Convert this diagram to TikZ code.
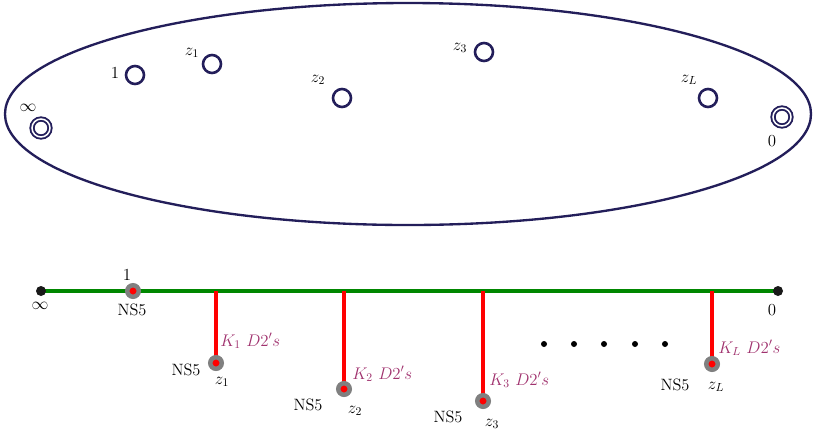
\documentclass[tikz,border=0pt]{standalone}
\usepackage{tikz}
\definecolor{navy}{RGB}{35,30,90}
\definecolor{lab}{RGB}{160,50,110}
\definecolor{grn}{RGB}{0,135,0}
\definecolor{rd}{RGB}{255,0,0}
\definecolor{gry}{RGB}{128,128,128}
\begin{document}
\begin{tikzpicture}[x=0.03cm,y=-0.03cm,
  puncture/.style={circle,draw=navy,line width=2.2pt,minimum size=18*0.03cm,inner sep=0pt},
  dpuncture/.style={circle,draw=navy,line width=1.6pt,minimum size=18*0.03cm,inner sep=0pt,double=white,double distance=1.3pt},
  lbl/.style={inner sep=1pt,font=\fontsize{14}{16}\selectfont},
  klbl/.style={inner sep=1pt,anchor=west,text=lab,font=\fontsize{14}{16}\selectfont},
  ns/.style={circle,fill=rd,draw=gry,line width=4.5*0.03cm,minimum size=11.5*0.03cm,inner sep=0pt},
  endpt/.style={circle,fill=black!90,minimum size=10*0.03cm,inner sep=0pt},
  greenline/.style={draw=grn,line width=4pt},
  redline/.style={draw=rd,line width=4pt},
  dotty/.style={circle,fill=black,minimum size=6*0.03cm,inner sep=0pt}]
\useasboundingbox (0,0) rectangle (817,436);
% ellipse
\draw[navy,line width=2pt] (408,114) ellipse [x radius=403, y radius=111];
\node[puncture] (p1) at (135,75) {};
\node[lbl] (lp1) at (115,73) {$1$};
\node[puncture] (pz1) at (212,64) {};
\node[lbl] (lpz1) at (192,53) {$z_1$};
\node[puncture] (pz2) at (342,98) {};
\node[lbl] (lpz2) at (318,80) {$z_2$};
\node[puncture] (pz3) at (484,52) {};
\node[lbl] (lpz3) at (460,48) {$z_3$};
\node[puncture] (pzL) at (708,98) {};
\node[lbl] (lpzL) at (689,80) {$z_L$};
\node[dpuncture] (pinf) at (41,128) {};
\node[lbl] (lpinf) at (28,108) {$\infty$};
\node[dpuncture] (p0) at (782,117) {};
\node[lbl] (lp0) at (772,141) {$0$};
% bottom
\coordinate (inf) at (41,291);
\coordinate (zero) at (778,291);
\coordinate (c1) at (133,291);
\coordinate (b1) at (216,291);
\coordinate (b2) at (344,291);
\coordinate (b3) at (483,291);
\coordinate (bL) at (712,291);
\coordinate (e1) at (216,363);
\coordinate (e2) at (344,389);
\coordinate (e3) at (483,401);
\coordinate (eL) at (712,364);
\draw[greenline] (inf) -- (zero);
\draw[redline] (b1) -- (e1);
\draw[redline] (b2) -- (e2);
\draw[redline] (b3) -- (e3);
\draw[redline] (bL) -- (eL);
\node[ns] (n1) at (c1) {};
\node[ns] (m1) at (e1) {};
\node[ns] (m2) at (e2) {};
\node[ns] (m3) at (e3) {};
\node[ns] (mL) at (eL) {};
\node[endpt] (ninf) at (inf) {};
\node[endpt] (nzero) at (zero) {};
\node[lbl] (linf) at (40,306) {$\infty$};
\node[lbl] (lzero) at (772,310) {$0$};
\node[lbl] (ln1) at (127,275) {$1$};
\node[lbl] (nsl1) at (132,310) {NS5};
\node[klbl] (k1) at (219,341) {$K_1\ D2's$};
\node[lbl] (ns1) at (186,370) {NS5};
\node[lbl] (z1) at (222,382) {$z_1$};
\node[klbl] (k2) at (351,374) {$K_2\ D2's$};
\node[lbl] (ns2) at (308,405) {NS5};
\node[lbl] (z2) at (355,411) {$z_2$};
\node[klbl] (k3) at (488,380) {$K_3\ D2's$};
\node[lbl] (ns3) at (448,417) {NS5};
\node[lbl] (z3) at (492,424) {$z_3$};
\node[klbl] (kL) at (717,348) {$K_L\ D2's$};
\node[lbl] (nsL) at (675,385) {NS5};
\node[lbl] (zL) at (716,387) {$z_L$};
\foreach \x/\n in {544/d1,574/d2,604/d3,635/d4,665/d5}
  \node[dotty] (\n) at (\x,344) {};
\end{tikzpicture}
\end{document}
